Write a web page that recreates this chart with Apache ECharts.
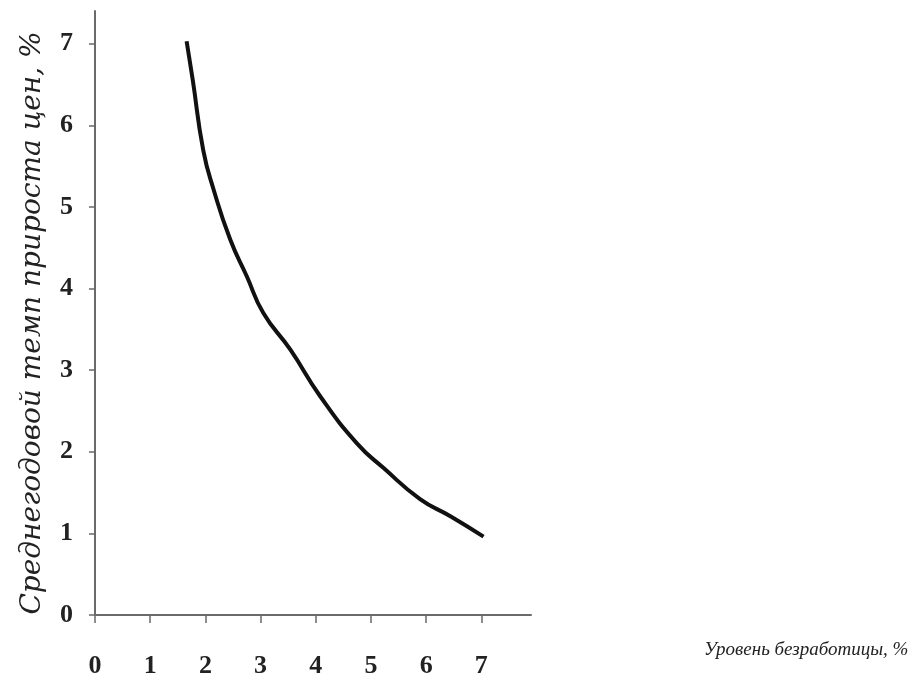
<!DOCTYPE html>
<html>
<head>
<meta charset="utf-8">
<script src="https://cdn.jsdelivr.net/npm/echarts@6/dist/echarts.min.js"></script>
<style>
  html, body { margin: 0; padding: 0; background: #fff; }
  #chart { width: 917px; height: 681px; }
</style>
</head>
<body>
<div id="chart"></div>
<script>
// Data
const unemployment = [1.66, 1.77, 1.96, 2.15, 2.45, 2.75, 3.05, 3.54, 4.08, 4.75, 5.23, 5.89, 6.44, 7.04];
const inflation    = [7.03, 6.56, 5.70, 5.21, 4.60, 4.15, 3.70, 3.25, 2.68, 2.10, 1.80, 1.42, 1.21, 0.96];
const xTicks = [0, 1, 2, 3, 4, 5, 6, 7];
const yTicks = [0, 1, 2, 3, 4, 5, 6, 7];
const xName = 'Уровень безработицы, %';
const yName = 'Среднегодовой темп прироста цен, %';

const points = unemployment.map((u, i) => [u, inflation[i]]);

const chart = echarts.init(document.getElementById('chart'), null, { renderer: 'canvas' });
const axisColor = '#6a6a6a';
chart.setOption({
  backgroundColor: '#ffffff',
  animation: false,
  grid: { left: 95, right: 386, top: 11, bottom: 66, containLabel: false, outerBoundsMode: 'none' },
  xAxis: {
    type: 'value',
    min: 0, max: 7.9, interval: 1,
    name: '{n|' + xName + '}',
    nameLocation: 'end',
    nameGap: 173,
    nameTextStyle: {
      align: 'left', verticalAlign: 'middle',
      rich: {
        n: {
          fontFamily: 'Liberation Serif', fontStyle: 'italic', fontSize: 19,
          color: '#222', padding: [70, 0, 0, 0]
        }
      }
    },
    splitLine: { show: false },
    axisLine: { show: true, onZero: false, lineStyle: { color: axisColor, width: 2 } },
    axisTick: { show: true, customValues: xTicks, length: 8, lineStyle: { color: axisColor, width: 1.5 } },
    axisLabel: {
      customValues: xTicks, margin: 38,
      fontFamily: 'Liberation Serif', fontSize: 26, fontWeight: 'bold', color: '#222'
    }
  },
  yAxis: {
    type: 'value',
    min: 0, max: 7.4, interval: 1,
    name: '{n|' + yName + '}',
    nameLocation: 'middle',
    nameGap: 48,
    nameTextStyle: {
      rich: {
        n: {
          fontFamily: 'DejaVu Serif', fontStyle: 'italic', fontSize: 28, color: '#222',
          padding: [0, 20, 0, 0]
        }
      }
    },
    splitLine: { show: false },
    axisLine: { show: true, onZero: false, lineStyle: { color: axisColor, width: 2 } },
    axisTick: { show: true, customValues: yTicks, length: 6, lineStyle: { color: axisColor, width: 1.5 } },
    axisLabel: {
      customValues: yTicks, margin: 22,
      fontFamily: 'Liberation Serif', fontSize: 26, fontWeight: 'bold', color: '#222'
    }
  },
  series: [{
    type: 'line',
    data: points,
    smooth: 0.5,
    showSymbol: false,
    lineStyle: { color: '#111', width: 4 }
  }]
});
</script>
</body>
</html>
